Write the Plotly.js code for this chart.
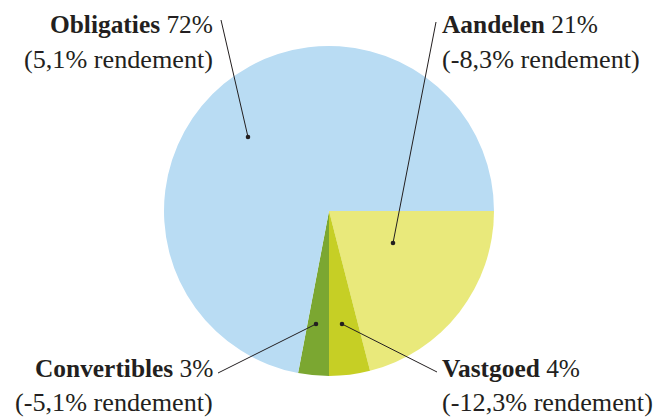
<!DOCTYPE html>
<html>
<head>
<meta charset="utf-8">
<script src="https://cdn.plot.ly/plotly-3.0.1.min.js"></script>
<style>html,body{margin:0;padding:0;background:#fff;}#chart{width:667px;height:417px;}</style>
</head>
<body>
<div id="chart"></div>
<script>
// Data
const categories = ["Aandelen", "Vastgoed", "Convertibles", "Obligaties"];
const shares = [21, 4, 3, 72];
const returns = ["-8,3%", "-12,3%", "-5,1%", "5,1%"];
const colors = ["#e9e97b", "#c6cf25", "#7ba731", "#b9dcf3"];

const W = 667, H = 417;
const px = x => x / W;
const py = y => 1 - y / H;

// Label layout (pixel positions)
const labelLayout = {
  "Aandelen":     {x: 441, y1: 24, y2: 59, anchor: "left",  line: [[436, 22], [393, 243]]},
  "Vastgoed":     {x: 441, y1: 368, y2: 402, anchor: "left", line: [[437, 372], [342, 324]]},
  "Convertibles": {x: 214, y1: 368, y2: 402, anchor: "right", line: [[218, 373], [316, 324]]},
  "Obligaties":   {x: 214, y1: 24, y2: 59, anchor: "right", line: [[221, 20], [248, 137]]}
};

const txtColor = "#231f20";
const fam = "Liberation Serif, Times New Roman, serif";
const font1 = {family: fam, size: 25.4, color: txtColor};
const font2 = {family: fam, size: 26.2, color: txtColor};

const annotations = [];
const shapes = [];
categories.forEach((c, i) => {
  const L = labelLayout[c];
  annotations.push({
    xref: "paper", yref: "paper", x: px(L.x), y: py(L.y1),
    xanchor: L.anchor, yanchor: "middle", showarrow: false, borderpad: 0,
    text: "<b>" + c + "</b> " + shares[i] + "%", font: font1
  });
  annotations.push({
    xref: "paper", yref: "paper", x: px(L.x), y: py(L.y2),
    xanchor: L.anchor, yanchor: "middle", showarrow: false, borderpad: 0,
    text: "(" + returns[i] + " rendement)", font: font2
  });
  shapes.push({
    type: "line", xref: "paper", yref: "paper",
    x0: px(L.line[0][0]), y0: py(L.line[0][1]), x1: px(L.line[1][0]), y1: py(L.line[1][1]),
    line: {color: txtColor, width: 1}
  });
  const r = 2.3;
  shapes.push({
    type: "circle", xref: "paper", yref: "paper",
    x0: px(L.line[1][0] - r), y0: py(L.line[1][1] - r), x1: px(L.line[1][0] + r), y1: py(L.line[1][1] + r),
    fillcolor: txtColor, line: {width: 0}
  });
});

const trace = {
  type: "pie",
  labels: categories,
  values: shares,
  sort: false,
  direction: "clockwise",
  rotation: 90,
  textinfo: "none",
  hoverinfo: "none",
  marker: {colors: colors, line: {width: 0}},
  domain: {x: [px(164), px(494)], y: [py(376.5), py(45.5)]},
  showlegend: false
};

Plotly.newPlot("chart", [trace], {
  width: W, height: H,
  margin: {l: 0, r: 0, t: 0, b: 0},
  paper_bgcolor: "#ffffff",
  showlegend: false,
  annotations: annotations,
  shapes: shapes
}, {staticPlot: true});
</script>
</body>
</html>
